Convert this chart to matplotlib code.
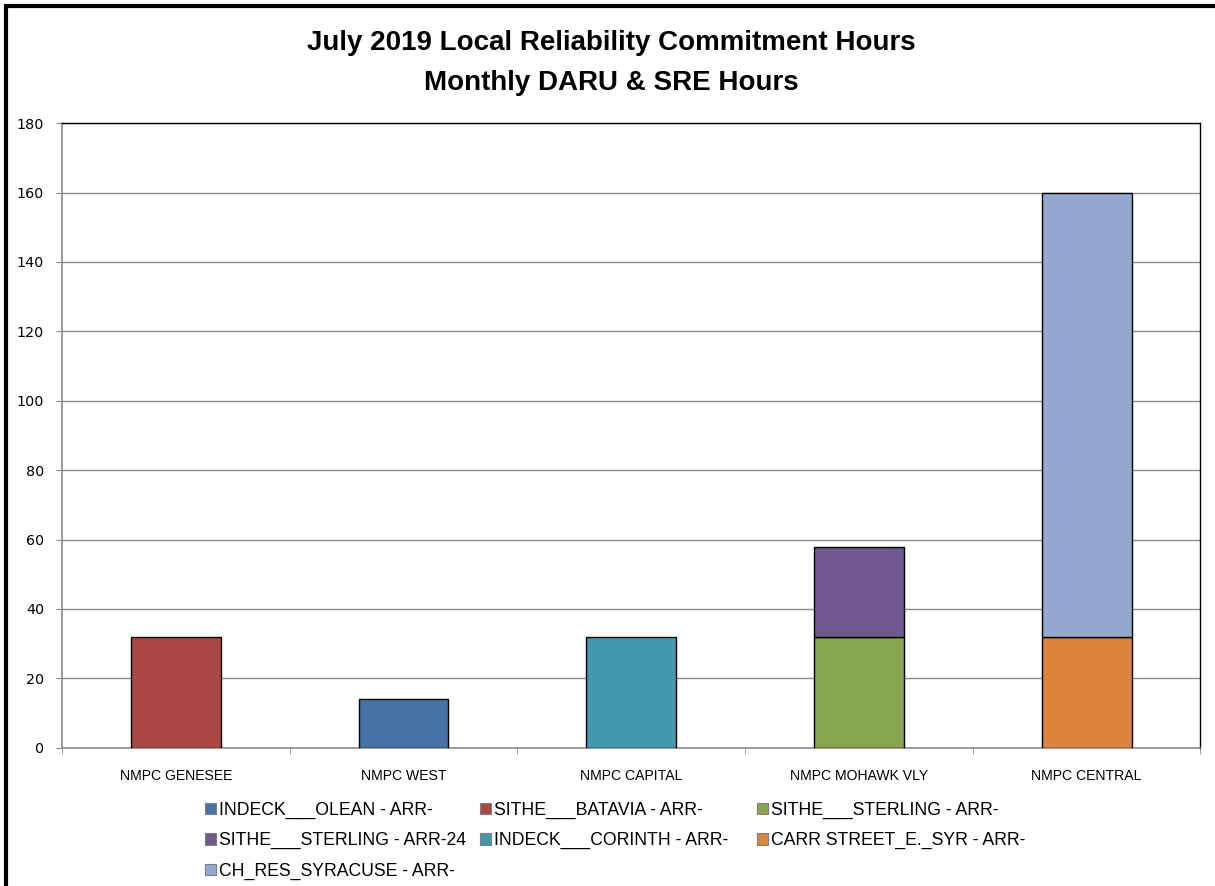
import numpy as np
import matplotlib.pyplot as plt
from matplotlib.patches import Rectangle, Patch

# ========= DATA =========
zones = ["NMPC GENESEE", "NMPC WEST", "NMPC CAPITAL", "NMPC MOHAWK VLY", "NMPC CENTRAL"]

units = [
    "INDECK___OLEAN - ARR-",
    "SITHE___BATAVIA - ARR-",
    "SITHE___STERLING - ARR-",
    "SITHE___STERLING - ARR-24",
    "INDECK___CORINTH - ARR-",
    "CARR STREET_E._SYR - ARR-",
    "CH_RES_SYRACUSE - ARR-",
]

# horas por unidad en cada zona (mismo orden que zones)
indeck_olean = [0, 14, 0, 0, 0]
sithe_batavia = [32, 0, 0, 0, 0]
sithe_sterling = [0, 0, 0, 32, 0]
sithe_sterling_24 = [0, 0, 0, 26, 0]
indeck_corinth = [0, 0, 32, 0, 0]
carr_street = [0, 0, 0, 0, 32]
ch_res_syracuse = [0, 0, 0, 0, 128]

colors = ["#4572A7", "#AA4643", "#89A54E", "#71588F", "#4198AF", "#DB843D", "#93A9CF"]

series = [indeck_olean, sithe_batavia, sithe_sterling, sithe_sterling_24,
          indeck_corinth, carr_street, ch_res_syracuse]

FONT = ["Liberation Sans", "DejaVu Sans"]

# ========= FIGURE =========
fig = plt.figure(figsize=(12.15, 8.86), dpi=100)
ax = fig.add_axes([0.051, 0.156, 0.937, 0.705])

x = np.arange(len(zones))
bottom = np.zeros(len(zones))
for vals, col in zip(series, colors):
    v = np.array(vals, dtype=float)
    mask = v > 0
    ax.bar(x[mask], v[mask], width=0.395, bottom=bottom[mask], color=col,
           edgecolor="black", linewidth=1.0, zorder=3)
    bottom += v

ax.set_xlim(-0.5, len(zones) - 0.5)
ax.set_ylim(0, 180)
ax.set_yticks(np.arange(0, 181, 20))
ax.yaxis.grid(True, color="#8c8c8c", linewidth=1.0, zorder=0)

ax.set_xticks(x)
ax.set_xticklabels(zones, fontsize=10.1, family=FONT)
ax.set_xticks(np.arange(-0.5, len(zones), 1), minor=True)
ax.tick_params(axis="x", which="major", length=0, pad=15)
ax.tick_params(axis="x", which="minor", length=4, color="#8c8c8c", direction="out")
ax.tick_params(axis="y", length=4.3, color="#8c8c8c", labelsize=10.3, pad=8.5)

for s in ["left", "bottom"]:
    ax.spines[s].set_color("#8c8c8c")
    ax.spines[s].set_linewidth(1.2)
for s in ["top", "right"]:
    ax.spines[s].set_color("black")
    ax.spines[s].set_linewidth(1.0)

fig.text(0.503, 0.9515, "July 2019 Local Reliability Commitment Hours", ha="center", va="center",
         fontsize=20, fontweight="bold", family=FONT)
fig.text(0.503, 0.9063, "Monthly DARU & SRE Hours", ha="center", va="center",
         fontsize=20, fontweight="bold", family=FONT)

# leyenda: 3 columnas de igual ancho, rellenas por filas
handles = [Patch(facecolor=c, edgecolor="#7f7f7f", linewidth=0.8) for c in colors]
col_x = [205 / 1215, 480 / 1215, 757 / 1215]
for ci, cx in enumerate(col_x):
    idx = list(range(ci, len(units), 3))
    leg = fig.legend([handles[i] for i in idx], [units[i] for i in idx], ncol=1,
                     loc="upper left", bbox_to_anchor=(cx, 0.0950), frameon=False,
                     prop={"family": FONT, "size": 12.7},
                     handlelength=0.6, handleheight=0.6, handletextpad=0.2,
                     labelspacing=0.75, borderaxespad=0, borderpad=0)

# marco grueso del gráfico
fig.patches.append(Rectangle((6 / 1215, -0.05), 1.2, 1 - 6 / 886 + 0.05, transform=fig.transFigure,
                             fill=False, edgecolor="black", linewidth=3, zorder=10))

fig.savefig("out.png", dpi=100)
